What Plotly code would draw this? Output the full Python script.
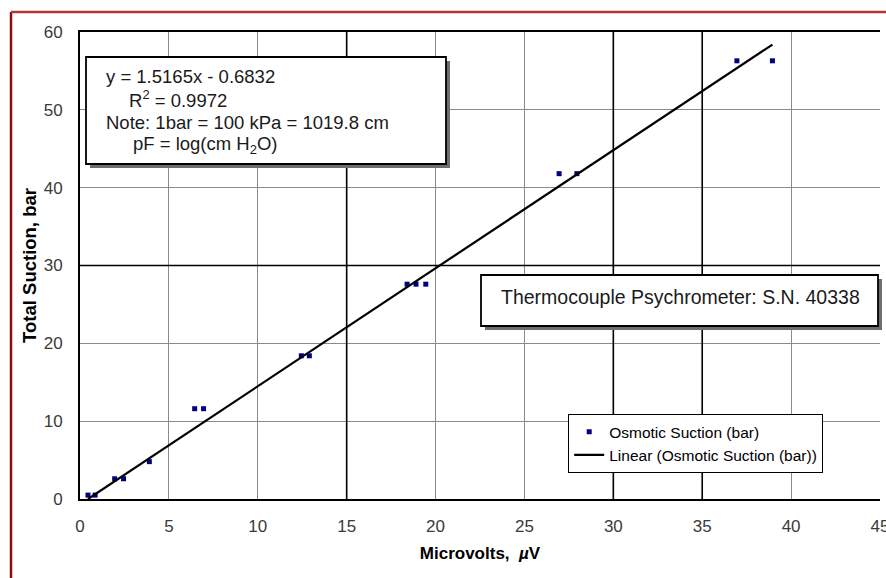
import plotly.graph_objects as go

# Psychrometer calibration readings: microvolt output vs. osmotic suction of the reference solution
microvolts = [0.45, 0.85, 1.95, 2.45, 3.9, 6.45, 6.95, 12.45, 12.9,
              18.4, 18.9, 19.45, 26.95, 27.95, 36.95, 38.95]
osmotic_suction = [0.5, 0.5, 2.6, 2.6, 4.8, 11.6, 11.6, 18.4, 18.4,
                   27.6, 27.6, 27.6, 41.8, 41.8, 56.3, 56.3]

# Least-squares fit reported on the chart
slope = 1.5165
intercept = -0.6832
r_squared = 0.9972

x_ticks = list(range(0, 46, 5))
y_ticks = list(range(0, 61, 10))
bold_x_grid = [15, 30, 35]
bold_y_grid = [30]

W, H = 886, 578
ML, MR, MT, MB = 80, 6, 32, 79
PW, PH = W - ML - MR, H - MT - MB


def xp(px):
    return (px - ML) / PW


def yp(py):
    return (H - MB - py) / PH


FONT = "Liberation Sans, Arial, sans-serif"

fit_x = [min(microvolts), max(microvolts)]
fit_y = [slope * v + intercept for v in fit_x]

fig = go.Figure()
fig.add_trace(go.Scatter(
    x=microvolts, y=osmotic_suction, mode="markers",
    name="Osmotic Suction (bar)",
    marker=dict(symbol="square", size=5, color="#000080", line=dict(width=0)),
))
fig.add_trace(go.Scatter(
    x=fit_x, y=fit_y, mode="lines",
    name="Linear (Osmotic Suction (bar))",
    line=dict(color="black", width=2.2),
))

shapes = []
# emphasised grid lines
for gx in bold_x_grid:
    shapes.append(dict(type="line", xref="x", yref="y", x0=gx, x1=gx, y0=0, y1=60,
                       line=dict(color="black", width=1.6), layer="between"))
for gy in bold_y_grid:
    shapes.append(dict(type="line", xref="x", yref="y", x0=0, x1=45, y0=gy, y1=gy,
                       line=dict(color="black", width=1.6), layer="between"))


def box(x0, y0, x1, y1, off=4):
    # drop shadow then white framed box
    shapes.append(dict(type="rect", xref="paper", yref="paper",
                       x0=xp(x0 + off), x1=xp(x1 + off), y0=yp(y1 + off), y1=yp(y0 + off),
                       fillcolor="#6e6e6e", line=dict(width=0), layer="above"))
    shapes.append(dict(type="rect", xref="paper", yref="paper",
                       x0=xp(x0), x1=xp(x1), y0=yp(y1), y1=yp(y0),
                       fillcolor="white", line=dict(color="black", width=1.8), layer="above"))


box(86, 57, 446, 164)
box(481, 275, 878, 326)

# outer frame around the chart object
shapes.append(dict(type="line", xref="paper", yref="paper",
                   x0=xp(11), x1=xp(11), y0=yp(12), y1=yp(600),
                   line=dict(color="#8b0d0d", width=2.5), layer="above"))
shapes.append(dict(type="line", xref="paper", yref="paper",
                   x0=xp(11), x1=xp(900), y0=yp(12), y1=yp(12),
                   line=dict(color="#b53636", width=2.5), layer="above"))

annotations = []


def text(px, py, s, size, anchor="left"):
    annotations.append(dict(xref="paper", yref="paper", x=xp(px), y=yp(py), text=s,
                            showarrow=False, xanchor=anchor, yanchor="middle",
                            font=dict(family=FONT, size=size, color="#1a1a1a")))


text(104, 76, f"y = {slope:.4f}x - {abs(intercept):.4f}", 18.5)
text(127, 99, f"R<sup>2</sup> = {r_squared:.4f}", 18.5)
text(104, 122, "Note: 1bar = 100 kPa = 1019.8 cm", 18.5)
text(131, 145, "pF = log(cm H<sub>2</sub>O)", 18.5)
text(680, 297, "Thermocouple Psychrometer: S.N. 40338", 19.5, anchor="center")

axis_common = dict(
    showgrid=True, gridcolor="#8a8a8a", gridwidth=1,
    zeroline=False, ticks="",
    tickfont=dict(family=FONT, size=17, color="#3a3a3a"),
    showline=True, linecolor="black", linewidth=2,
    ticklabeloverflow="allow", automargin=False,
)

fig.update_layout(
    width=W, height=H,
    margin=dict(l=ML, r=MR, t=MT, b=MB, autoexpand=False),
    paper_bgcolor="white", plot_bgcolor="white",
    font=dict(family=FONT, color="black"),
    xaxis=dict(range=[0, 45], tickvals=x_ticks, mirror=True,
               ticklabelstandoff=11,
               title=dict(text="Microvolts,  <i>µ</i>V", standoff=12,
                          font=dict(family=FONT, size=17, color="black", weight="bold")),
               **axis_common),
    yaxis=dict(range=[0, 60], tickvals=y_ticks, mirror=False,
               ticklabelstandoff=12,
               title=dict(text="Total Suction, bar", standoff=2,
                          font=dict(family=FONT, size=18.5, color="black", weight="bold")),
               **axis_common),
    showlegend=True,
    legend=dict(x=xp(568), y=yp(414), xanchor="left", yanchor="top",
                bgcolor="white", bordercolor="black", borderwidth=1.2,
                font=dict(family=FONT, size=15.5, color="black"),
                itemwidth=30, tracegroupgap=0),
    shapes=shapes,
    annotations=annotations,
)

fig.write_html("out.html")
